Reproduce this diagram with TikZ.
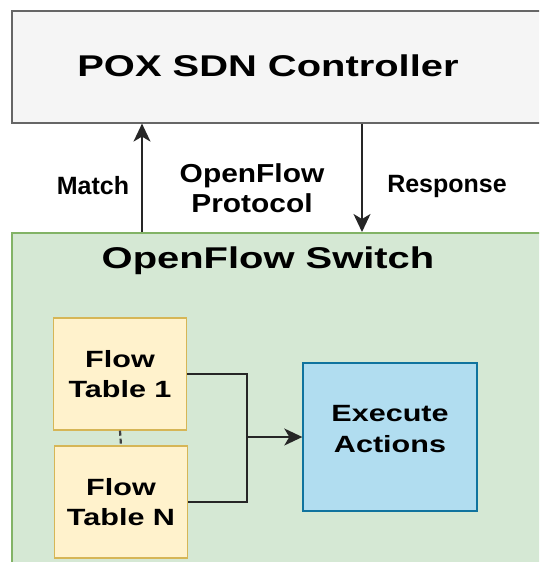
\documentclass[tikz,border=0pt]{standalone}
\usepackage{fontspec}
\setmainfont{Liberation Sans}
\usetikzlibrary{arrows.meta}

% Fonts (the drawing is set a bit wide)
\newfontfamily\titleFont[FakeStretch=1.33]{Liberation Sans}
\newfontfamily\boxFont[FakeStretch=1.3]{Liberation Sans}
\newfontfamily\protoFont[FakeStretch=1.15]{Liberation Sans}

% Colours
\definecolor{ctrlFill}{HTML}{F5F5F5}
\definecolor{ctrlLine}{HTML}{666666}
\definecolor{swFill}{HTML}{D5E8D4}
\definecolor{swLine}{HTML}{82B366}
\definecolor{tabFill}{HTML}{FFF2CC}
\definecolor{tabLine}{HTML}{D6B656}
\definecolor{actFill}{HTML}{B1DDF0}
\definecolor{actLine}{HTML}{10739E}

\begin{document}
\begin{tikzpicture}[x=1pt, y=-1pt,
  ctrlbox/.style={draw=ctrlLine, fill=ctrlFill, line width=1.6pt},
  switchbox/.style={draw=swLine, fill=swFill, line width=1.6pt},
  tablebox/.style={draw=tabLine, fill=tabFill, line width=1.4pt,
    minimum width=133pt, minimum height=112pt, align=center,
    font=\boxFont\bfseries\fontsize{23.5}{30}\selectfont},
  actbox/.style={draw=actLine, fill=actFill, line width=1.4pt,
    minimum width=174pt, minimum height=148pt, align=center,
    font=\boxFont\bfseries\fontsize{23.5}{31}\selectfont},
  bigtitle/.style={font=\titleFont\bfseries\fontsize{30}{36}\selectfont},
  sidelabel/.style={font=\bfseries\fontsize{25}{30}\selectfont},
  protolabel/.style={align=center, font=\protoFont\bfseries\fontsize{26}{30}\selectfont},
  wire/.style={line width=1.6pt, black!85},
  arrow/.style={wire, -{Stealth[length=18pt, width=17pt, inset=5pt]}}]

\clip (0,0) rectangle (539,562);

% Controller and switch frames
\node[ctrlbox, anchor=north west, minimum width=560pt, minimum height=112pt] (ctrl) at (11,10) {};
\node[bigtitle] (ctrltitle) at (268,66) {POX SDN Controller};

\node[switchbox, anchor=north west, minimum width=560pt, minimum height=360pt] (switch) at (11,232) {};
\node[bigtitle] (swtitle) at (268,261) {OpenFlow Switch};

% Match / Response
\coordinate (mx) at (142,0);
\coordinate (rx) at (362,0);
\draw[arrow] (mx |- switch.north) -- (mx |- ctrl.south);
\draw[arrow] (rx |- ctrl.south) -- (rx |- switch.north);

\node[sidelabel] (match) at (93,186) {Match};
\node[protolabel] (proto) at (252,188) {OpenFlow\\Protocol};
\node[sidelabel] (resp) at (447,186) {Response};

% Flow tables and actions
\node[tablebox] (ft1) at (120,374) {Flow\\Table 1};
\node[tablebox] (ftn) at (121,502) {Flow\\Table N};
\node[actbox] (exec) at (390,437) {Execute\\Actions\\[-14pt]\mbox{}};

\draw[wire, black!75, line width=2.2pt, dash pattern=on 5pt off 3pt] (ft1.south) -- (ftn.north);

\coordinate (join) at (247,437);
\draw[wire] (ft1.east) -| (join) |- (ftn.east);
\draw[arrow] (join) -- (exec.west);

\end{tikzpicture}
\end{document}
